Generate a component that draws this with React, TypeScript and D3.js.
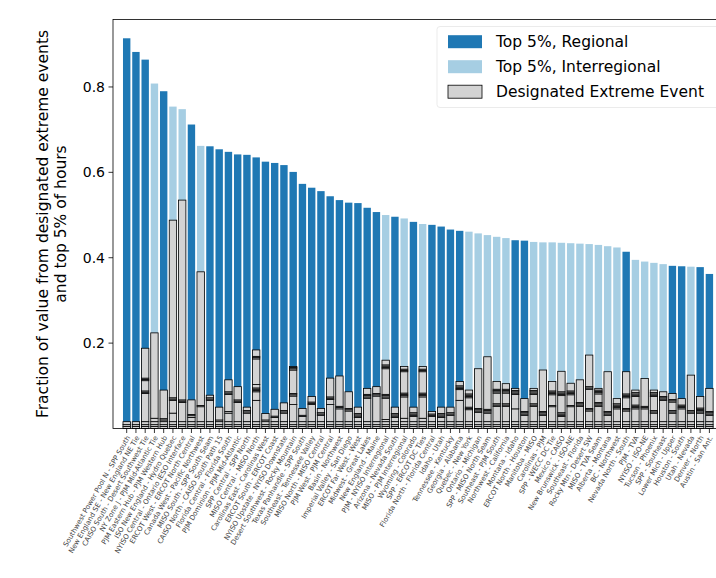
import React, { useEffect, useRef } from 'react';
import * as d3 from 'd3';

// corridor names (unreadable in the source at this size, approximated)
const categories: string[] = [
  'Southwest Power Pool N - SPP South',
  'New England SE - New England NE Tie',
  'CAISO South - Desert Southwest Tie',
  'NY Zone J - PJM Mid-Atlantic Tie',
  'PJM Eastern Hub - PJM Western Hub',
  'ISO New England - Hydro Quebec',
  'NYISO Central - Ontario IESO Interface',
  'ERCOT West - ERCOT North Central',
  'Canada West - Pacific Northwest',
  'MISO South - SPP South Seam',
  'CAISO North - CAISO South Path 15',
  'Florida Central - Florida South',
  'PJM Dominion - PJM Mid-Atlantic',
  'SPP Central - SPP North',
  'MISO Central - MISO North',
  'Carolinas East - Carolinas West',
  'ERCOT South - ERCOT Coast',
  'NYISO Upstate - NYISO Downstate',
  'Desert Southwest - Rocky Mountain',
  'Texas Panhandle - SPP South',
  'Southeast - Tennessee Valley',
  'MISO North - MISO Central',
  'PJM West - PJM Central',
  'Basin - Northwest',
  'Imperial Valley - San Diego',
  'ERCOT Far West - West',
  'Midwest - Great Lakes',
  'New England - Maine',
  'PJM - NYISO Interregional',
  'Arizona - Nevada South',
  'MISO - PJM Interregional',
  'Wyoming - Colorado',
  'SPP - ERCOT DC Ties',
  'Florida North - Florida Central',
  'Idaho - Utah',
  'Tennessee - Kentucky',
  'Georgia - Alabama',
  'Quebec - New York',
  'Ontario - Michigan',
  'SPP - MISO North Seam',
  'Southeast - PJM South',
  'Northwest - California',
  'Montana - Idaho',
  'ERCOT North - Houston',
  'Manitoba - MISO',
  'Carolinas - PJM',
  'SPP - WECC DC Tie',
  'Mexico - CAISO',
  'New Brunswick - ISO-NE',
  'Southeast - Florida',
  'Rocky Mtn - Desert SW',
  'MISO - TVA Seam',
  'Alberta - Montana',
  'BC - Northwest',
  'Nevada North - South',
  'PJM - TVA',
  'NYISO - ISO-NE',
  'Tucson - Phoenix',
  'SPP - Southeast',
  'Lower Mich - Upper',
  'Houston - South',
  'Utah - Nevada',
  'Denver - North',
  'Austin - San Ant.',
];

// fraction of value from the top 5% of hours
const top5Share: number[] = [
  0.914, 0.882, 0.864, 0.808, 0.79, 0.754, 0.748, 0.712, 0.662, 0.661,
  0.654, 0.648, 0.642, 0.641, 0.635, 0.625, 0.622, 0.617, 0.601, 0.573,
  0.564, 0.556, 0.544, 0.535, 0.529, 0.528, 0.517, 0.507, 0.5, 0.496,
  0.492, 0.484, 0.479, 0.477, 0.473, 0.466, 0.463, 0.461, 0.457, 0.453,
  0.449, 0.446, 0.441, 0.44, 0.437, 0.436, 0.436, 0.435, 0.434, 0.433,
  0.432, 0.43, 0.427, 0.424, 0.414, 0.395, 0.391, 0.388, 0.385, 0.381,
  0.38, 0.379, 0.378, 0.362,
];

// R = regional, I = interregional
const scope: string[] = [
  'R', 'R', 'R', 'I', 'R', 'I', 'I', 'R', 'I',
  'R', 'R', 'R', 'R', 'R', 'R', 'R', 'R', 'R', 'R',
  'R', 'R', 'R', 'R', 'R', 'R', 'R', 'R', 'R',
  'I', 'R', 'I', 'R', 'I',
  'R', 'R', 'R', 'R',
  'I', 'I', 'I', 'I', 'I',
  'R', 'R',
  'I', 'I', 'I', 'I', 'I', 'I', 'I', 'I', 'I', 'I',
  'R',
  'I', 'I', 'I', 'I',
  'R', 'R', 'I', 'R', 'R',
];

// share of value from each designated extreme event, stacked bottom-up
const eventShares: number[][] = [
  [0.005, 0.004, 0.007],
  [0.005, 0.004, 0.007],
  [0.005, 0.004, 0.007, 0.066, 0.003, 0.003, 0.024, 0.003, 0.003, 0.07],
  [0.005, 0.004, 0.007, 0.008, 0.2],
  [0.005, 0.004, 0.007, 0.004, 0.003, 0.067],
  [0.005, 0.004, 0.007, 0.02, 0.03, 0.003, 0.003, 0.416],
  [0.005, 0.004, 0.007, 0.045, 0.003, 0.003, 0.468],
  [0.005, 0.004, 0.007, 0.01, 0.004, 0.003, 0.034],
  [0.005, 0.004, 0.007, 0.035, 0.003, 0.313],
  [0.005, 0.004, 0.007, 0.05, 0.003, 0.003, 0.006],
  [0.005, 0.004, 0.007, 0.004, 0.03],
  [0.005, 0.004, 0.007, 0.02, 0.004, 0.04, 0.003, 0.003, 0.028],
  [0.005, 0.004, 0.007, 0.045, 0.003, 0.003, 0.031],
  [0.005, 0.004, 0.007, 0.02, 0.003, 0.003, 0.008],
  [0.005, 0.004, 0.007, 0.05, 0.02, 0.003, 0.003, 0.003, 0.008, 0.06, 0.003, 0.003, 0.015],
  [0.005, 0.004, 0.007, 0.004, 0.015],
  [0.005, 0.004, 0.007, 0.01, 0.003, 0.016],
  [0.005, 0.004, 0.007, 0.02, 0.003, 0.003, 0.018],
  [0.005, 0.004, 0.007, 0.04, 0.02, 0.003, 0.003, 0.055, 0.003, 0.003, 0.002],
  [0.005, 0.004, 0.007, 0.012, 0.003, 0.016],
  [0.005, 0.004, 0.007, 0.04, 0.003, 0.003, 0.013],
  [0.005, 0.004, 0.007, 0.015, 0.003, 0.003, 0.01],
  [0.005, 0.004, 0.007, 0.04, 0.012, 0.003, 0.003, 0.044],
  [0.005, 0.004, 0.007, 0.03, 0.003, 0.003, 0.071],
  [0.005, 0.004, 0.007, 0.025, 0.003, 0.003, 0.039],
  [0.005, 0.004, 0.007, 0.01, 0.003, 0.003, 0.003, 0.015],
  [0.005, 0.004, 0.007, 0.055, 0.003, 0.003, 0.003, 0.014],
  [0.005, 0.004, 0.007, 0.06, 0.003, 0.003, 0.016],
  [0.005, 0.004, 0.007, 0.005, 0.05, 0.003, 0.003, 0.003, 0.06, 0.003, 0.003, 0.003, 0.011],
  [0.005, 0.004, 0.007, 0.01, 0.003, 0.003, 0.003, 0.015],
  [0.005, 0.004, 0.007, 0.008, 0.05, 0.003, 0.003, 0.003, 0.05, 0.003, 0.003, 0.006],
  [0.005, 0.004, 0.007, 0.012, 0.003, 0.003, 0.003, 0.013],
  [0.005, 0.004, 0.007, 0.008, 0.05, 0.003, 0.003, 0.003, 0.05, 0.003, 0.003, 0.006],
  [0.005, 0.004, 0.007, 0.012, 0.003, 0.003, 0.006],
  [0.005, 0.004, 0.007, 0.01, 0.003, 0.003, 0.003, 0.015],
  [0.005, 0.004, 0.007, 0.015, 0.003, 0.003, 0.013],
  [0.005, 0.004, 0.007, 0.05, 0.025, 0.003, 0.003, 0.003, 0.01],
  [0.005, 0.004, 0.007, 0.028, 0.003, 0.003, 0.022, 0.003, 0.003, 0.003, 0.009],
  [0.005, 0.004, 0.007, 0.022, 0.003, 0.003, 0.003, 0.093],
  [0.005, 0.004, 0.007, 0.02, 0.003, 0.003, 0.003, 0.123],
  [0.005, 0.004, 0.007, 0.036, 0.003, 0.003, 0.025, 0.003, 0.003, 0.003, 0.018],
  [0.005, 0.004, 0.007, 0.036, 0.003, 0.003, 0.025, 0.003, 0.003, 0.003, 0.013],
  [0.005, 0.004, 0.007, 0.03, 0.034, 0.003, 0.003, 0.003, 0.005],
  [0.005, 0.004, 0.007, 0.015, 0.003, 0.003, 0.003, 0.03],
  [0.005, 0.004, 0.007, 0.036, 0.003, 0.003, 0.022, 0.003, 0.003, 0.003, 0.005],
  [0.005, 0.004, 0.007, 0.015, 0.003, 0.003, 0.003, 0.097],
  [0.005, 0.004, 0.007, 0.035, 0.003, 0.025, 0.003, 0.003, 0.003, 0.022],
  [0.005, 0.004, 0.007, 0.012, 0.003, 0.003, 0.003, 0.04, 0.003, 0.003, 0.003, 0.048],
  [0.005, 0.004, 0.007, 0.035, 0.003, 0.025, 0.003, 0.003, 0.003, 0.018],
  [0.005, 0.004, 0.007, 0.036, 0.003, 0.003, 0.003, 0.053],
  [0.005, 0.004, 0.007, 0.025, 0.003, 0.003, 0.045, 0.003, 0.003, 0.074],
  [0.005, 0.004, 0.007, 0.036, 0.003, 0.003, 0.003, 0.02, 0.003, 0.003, 0.003, 0.004],
  [0.005, 0.004, 0.007, 0.015, 0.003, 0.003, 0.003, 0.093],
  [0.005, 0.004, 0.007, 0.03, 0.003, 0.003, 0.003, 0.003, 0.012],
  [0.005, 0.004, 0.007, 0.025, 0.003, 0.003, 0.025, 0.003, 0.003, 0.003, 0.052],
  [0.005, 0.004, 0.007, 0.03, 0.003, 0.003, 0.003, 0.02, 0.003, 0.003, 0.003, 0.006],
  [0.005, 0.004, 0.007, 0.03, 0.003, 0.003, 0.065],
  [0.005, 0.004, 0.007, 0.02, 0.003, 0.003, 0.033, 0.003, 0.003, 0.003, 0.006],
  [0.005, 0.004, 0.007, 0.05, 0.003, 0.003, 0.003, 0.011],
  [0.005, 0.004, 0.007, 0.02, 0.003, 0.003, 0.02, 0.003, 0.003, 0.014],
  [0.005, 0.004, 0.007, 0.03, 0.003, 0.003, 0.003, 0.015],
  [0.005, 0.004, 0.007, 0.02, 0.003, 0.003, 0.083],
  [0.005, 0.004, 0.007, 0.02, 0.003, 0.003, 0.003, 0.003, 0.027],
  [0.005, 0.004, 0.007, 0.015, 0.003, 0.003, 0.003, 0.054],
];

const yTicks: number[] = [0.2, 0.4, 0.6, 0.8];
const legendLabels: string[] = ['Top 5%, Regional', 'Top 5%, Interregional', 'Designated Extreme Event'];

const W = 716;
const H = 578;
const FONT = 'DejaVu Sans, sans-serif';
const DARK = '#1f78b4';
const LIGHT = '#a6cee3';
const GREY = '#d3d3d3';

export default function App() {
  const svgRef = useRef<SVGSVGElement>(null);

  useEffect(() => {
    const svg = d3.select(svgRef.current);
    svg.selectAll('*').remove();

    const left = 113, right = 723, top = 19.5, bottom = 428.5;
    const x = d3.scaleLinear().domain([-1.48, categories.length + 0.47]).range([left, right]);
    const y = d3.scaleLinear().domain([0, 0.958]).range([bottom, top]);
    const bw = x(0.8) - x(0);

    const g = svg.append('g');

    // top-5% bars
    g.selectAll('rect.top5')
      .data(top5Share)
      .enter()
      .append('rect')
      .attr('x', (d, i) => x(i) - bw / 2)
      .attr('y', d => y(d))
      .attr('width', bw)
      .attr('height', d => y(0) - y(d))
      .attr('fill', (d, i) => (scope[i] === 'R' ? DARK : LIGHT));

    // stacked event segments
    eventShares.forEach((segs, i) => {
      let base = 0;
      segs.forEach(s => {
        g.append('rect')
          .attr('x', x(i) - bw / 2)
          .attr('y', y(base + s))
          .attr('width', bw)
          .attr('height', y(base) - y(base + s))
          .attr('fill', GREY)
          .attr('stroke', 'black')
          .attr('stroke-width', 0.8);
        base += s;
      });
    });

    // spines
    g.append('rect')
      .attr('x', left).attr('y', top)
      .attr('width', right - left).attr('height', bottom - top)
      .attr('fill', 'none').attr('stroke', 'black').attr('stroke-width', 0.8);

    // y axis
    yTicks.forEach(t => {
      g.append('line')
        .attr('x1', left - 4.5).attr('x2', left)
        .attr('y1', y(t)).attr('y2', y(t))
        .attr('stroke', 'black').attr('stroke-width', 0.8);
      g.append('text')
        .attr('x', left - 8).attr('y', y(t))
        .attr('text-anchor', 'end').attr('dominant-baseline', 'central')
        .attr('font-family', FONT).attr('font-size', 14)
        .text(t.toFixed(1));
    });

    const yl = g.append('g').attr('transform', `translate(0,${(top + bottom) / 2})`);
    yl.append('text')
      .attr('transform', 'translate(43,0) rotate(-90)')
      .attr('text-anchor', 'middle').attr('dominant-baseline', 'central')
      .attr('font-family', FONT).attr('font-size', 15.5)
      .text('Fraction of value from designated extreme events');
    yl.append('text')
      .attr('transform', 'translate(61,0) rotate(-90)')
      .attr('text-anchor', 'middle').attr('dominant-baseline', 'central')
      .attr('font-family', FONT).attr('font-size', 15.5)
      .text('and top 5% of hours');

    // x ticks and labels
    categories.forEach((c, i) => {
      g.append('line')
        .attr('x1', x(i)).attr('x2', x(i))
        .attr('y1', bottom).attr('y2', bottom + 4.5)
        .attr('stroke', 'black').attr('stroke-width', 0.8);
      g.append('text')
        .attr('transform', `translate(${x(i) + 2},${bottom + 8}) rotate(-60)`)
        .attr('text-anchor', 'end').attr('dominant-baseline', 'central')
        .attr('font-family', FONT).attr('font-size', 7)
        .attr('fill', '#444')
        .text(c);
    });

    // legend
    const lg = g.append('g');
    lg.append('rect')
      .attr('x', 437).attr('y', 26.5).attr('width', 300).attr('height', 81)
      .attr('rx', 3).attr('fill', 'white').attr('fill-opacity', 0.8)
      .attr('stroke', '#e6e6e6').attr('stroke-width', 0.8);
    const fills = [DARK, LIGHT, GREY];
    legendLabels.forEach((l, k) => {
      const cy = 41.7 + k * 25;
      lg.append('rect')
        .attr('x', 448).attr('y', cy - 6.5).attr('width', 34).attr('height', 13)
        .attr('fill', fills[k])
        .attr('stroke', k === 2 ? 'black' : 'none').attr('stroke-width', 0.8);
      lg.append('text')
        .attr('x', 496).attr('y', cy)
        .attr('dominant-baseline', 'central')
        .attr('font-family', FONT).attr('font-size', 15.5)
        .text(l);
    });
  }, []);

  return (
    <svg
      ref={svgRef}
      width={W}
      height={H}
      style={{ position: 'absolute', left: 0, top: 0, background: 'white' }}
    />
  );
}
